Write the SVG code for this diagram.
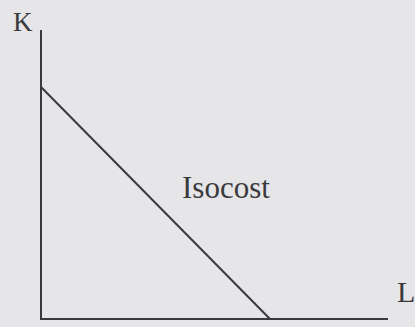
<svg xmlns="http://www.w3.org/2000/svg" width="415" height="327" viewBox="0 0 415 327">
<style>
.ax{stroke:#3a3a3c;stroke-width:2;fill:none}
.t{font-family:"Liberation Serif","Times New Roman",serif;fill:#3a3a3c}
</style>
<rect width="415" height="327" fill="#e6e5e7"/>
<g id="axes">
<polyline class="ax" points="41,30 41,319 388,319"/>
</g>
<g id="connectors">
<line class="ax" x1="41" y1="87" x2="270" y2="319"/>
</g>
<g id="K"><text class="t" x="13" y="31" font-size="27">K</text></g>
<g id="L"><text class="t" x="397" y="302" font-size="30">L</text></g>
<g id="isocost"><text class="t" x="182" y="198" font-size="31">Isocost</text></g>
</svg>
